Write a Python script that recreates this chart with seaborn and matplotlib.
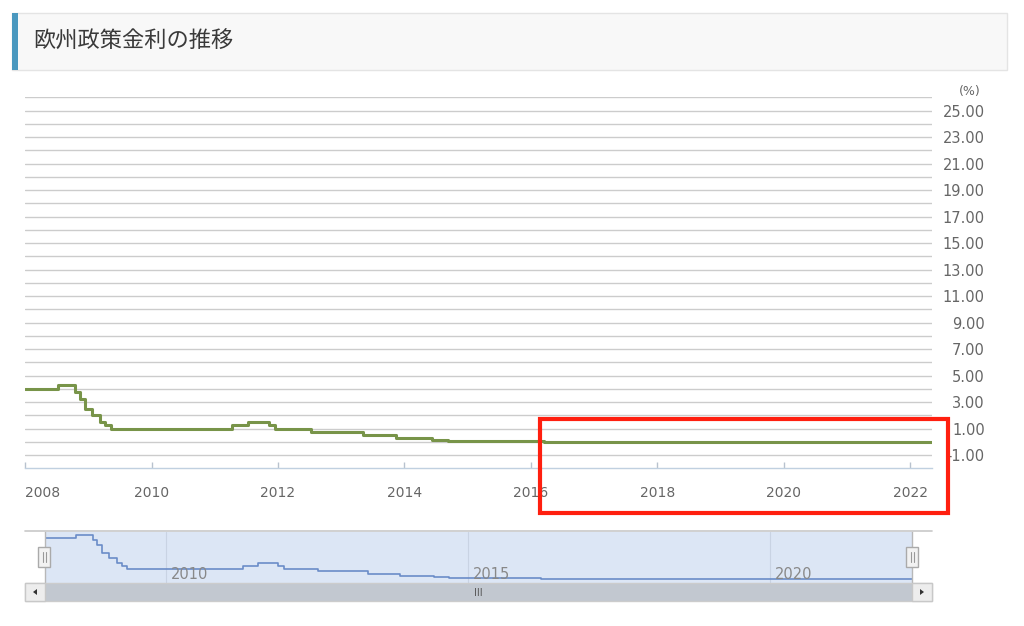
import pandas as pd
import matplotlib
matplotlib.use('Agg')
import matplotlib.pyplot as plt
import matplotlib.dates as mdates
from matplotlib.patches import Rectangle, Polygon
from matplotlib.lines import Line2D
import seaborn as sns

# 欧州政策金利 (ECB 主要リファイナンス金利) の変更日と水準
dates = ['2008-01-01', '2008-07-09', '2008-10-15', '2008-11-12', '2008-12-10',
         '2009-01-21', '2009-03-11', '2009-04-08', '2009-05-13', '2011-04-13',
         '2011-07-13', '2011-11-09', '2011-12-14', '2012-07-11', '2013-05-08',
         '2013-11-13', '2014-06-11', '2014-09-10', '2016-03-16', '2022-05-08']
rates = [4.00, 4.25, 3.75, 3.25, 2.50,
         2.00, 1.50, 1.25, 1.00, 1.25,
         1.50, 1.25, 1.00, 0.75, 0.50,
         0.25, 0.15, 0.05, 0.00, 0.00]

title = '欧州政策金利の推移'
main_years = list(range(2008, 2023, 2))
nav_years = [2010, 2015, 2020]
y_labels = list(range(-1, 26, 2))

df = pd.DataFrame({'date': pd.to_datetime(dates), 'rate': rates})
x_start = pd.Timestamp('2008-01-01')
x_end = pd.Timestamp('2022-05-08')

sns.set_theme(style='white')
plt.rcParams['font.family'] = ['DejaVu Sans', 'Noto Sans CJK JP']

W, H = 1024, 626


def box(x0, y0, x1, y1):
    # ピクセル座標 -> figure 座標
    return [x0 / W, 1 - y1 / H, (x1 - x0) / W, (y1 - y0) / H]


def add_rect(fig, x0, y0, x1, y1, **kw):
    l, b, w, h = box(x0, y0, x1, y1)
    fig.add_artist(Rectangle((l, b), w, h, transform=fig.transFigure, **kw))


fig = plt.figure(figsize=(10.24, 6.26), dpi=100)
fig.patch.set_facecolor('white')

# ヘッダー
add_rect(fig, 12, 13, 1007, 70, facecolor='#f8f8f8', edgecolor='#e4e4e4', linewidth=1)
add_rect(fig, 12, 13, 18, 70, facecolor='#4a98bf', edgecolor='none')
fig.text(33 / W, 1 - 41.5 / H, title, ha='left', va='center', fontsize=16,
         color='#3a3a3a', family=['Noto Sans CJK JP', 'DejaVu Sans'])

# メインチャート
ax = fig.add_axes(box(25, 97.3, 932, 468.3))
sns.lineplot(data=df, x='date', y='rate', ax=ax, drawstyle='steps-post',
             color='#789449', linewidth=2.2)
ax.set_xlim(x_start, x_end)
ax.set_ylim(-2, 26)
ax.set_xlabel('')
ax.set_ylabel('')

ax.yaxis.tick_right()
ax.set_yticks(y_labels)
ax.set_yticks(range(0, 27, 2), minor=True)
ax.set_yticklabels([f'{v:.2f}' for v in y_labels])
ax.tick_params(axis='y', which='both', length=0, pad=38, labelsize=10.5,
               labelcolor='#666666')
for lbl in ax.get_yticklabels():
    lbl.set_horizontalalignment('right')
ax.grid(axis='y', which='both', color='#cccccc', linewidth=1)
ax.set_axisbelow(True)

ax.set_xticks(pd.to_datetime([f'{y}-01-01' for y in main_years]))
ax.set_xticklabels([str(y) for y in main_years])
ax.tick_params(axis='x', bottom=True, direction='in', length=4.5, width=1,
               color='#b8c2ce', pad=13, labelsize=10, labelcolor='#666666')
ax.get_xticklabels()[0].set_horizontalalignment('left')
for s in ['top', 'left', 'right']:
    ax.spines[s].set_visible(False)
ax.spines['bottom'].set_color('#c0d0e0')
ax.spines['bottom'].set_linewidth(1)

fig.text(970 / W, 1 - 92 / H, '(%)', ha='center', va='center', fontsize=9,
         color='#666666')

# ナビゲーター
nav = fig.add_axes(box(45, 532, 912, 583))
nav.set_facecolor('#dce6f5')
sns.lineplot(data=df, x='date', y='rate', ax=nav, drawstyle='steps-post',
             color='#6a8cc8', linewidth=1.2)
nav.set_xlim(x_start, x_end)
nav.set_ylim(-0.4, 4.55)
nav.set_xlabel('')
nav.set_ylabel('')
nav.set_yticks([])
nav.set_xticks(pd.to_datetime([f'{y}-01-01' for y in nav_years]))
nav.set_xticklabels([])
nav.tick_params(axis='x', length=0)
nav.grid(axis='x', color='#c9d3e3', linewidth=0.8)
for y in nav_years:
    nav.text(mdates.date2num(pd.Timestamp(f'{y}-01-01')) + 28, 0.02, str(y),
             transform=nav.get_xaxis_transform(), ha='left', va='bottom',
             fontsize=10.5, color='#888888')
for s in ['top', 'bottom']:
    nav.spines[s].set_visible(False)
for s in ['left', 'right']:
    nav.spines[s].set_color('#b8b8b8')
    nav.spines[s].set_linewidth(1)

fig.add_artist(Line2D([25 / W, 932 / W], [1 - 531 / H] * 2,
                      transform=fig.transFigure, color='#c8c8c8', linewidth=1.2))

# スクロールバー
add_rect(fig, 25, 583, 932, 601, facecolor='#c2c8d0', edgecolor='#cccccc', linewidth=1)
add_rect(fig, 25, 583, 45, 601, facecolor='#ededed', edgecolor='#c8c8c8', linewidth=1)
add_rect(fig, 912, 583, 932, 601, facecolor='#ededed', edgecolor='#c8c8c8', linewidth=1)
for pts in ([(33, 592), (37, 589), (37, 595)], [(924, 592), (920, 589), (920, 595)]):
    fig.add_artist(Polygon([(px / W, 1 - py / H) for px, py in pts],
                           transform=fig.transFigure, facecolor='#333333',
                           edgecolor='none'))
fig.text(478 / W, 1 - 593 / H, 'III', ha='center', va='center', fontsize=7,
         color='#555555')

# ハンドル
for hx in (38, 906):
    add_rect(fig, hx, 547, hx + 12, 567, facecolor='#f2f2f2', edgecolor='#aaaaaa',
             linewidth=1)
    for lx in (hx + 4.5, hx + 7.5):
        fig.add_artist(Line2D([lx / W] * 2, [1 - 552 / H, 1 - 562 / H],
                              transform=fig.transFigure, color='#999999', linewidth=0.8))

# 赤枠
add_rect(fig, 540, 419, 948, 513, fill=False, edgecolor='#ff1f0f', linewidth=3)

fig.savefig('out.png', dpi=100)
